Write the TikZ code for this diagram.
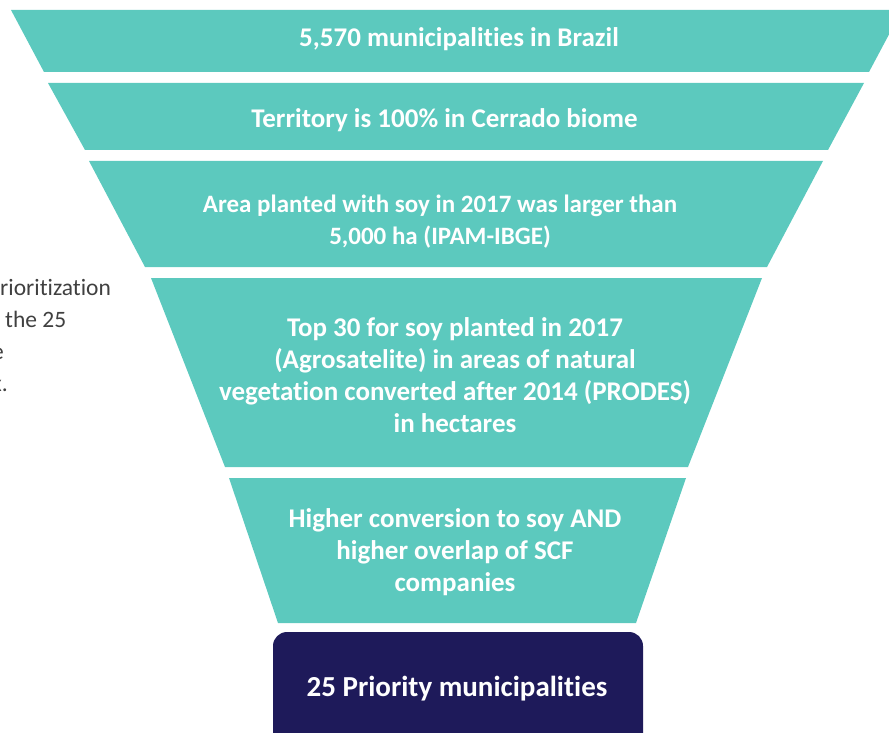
\documentclass[tikz,border=0pt]{standalone}
\usepackage{fontspec}
\setmainfont[RawFeature=-liga]{Carlito}
\definecolor{funnelteal}{HTML}{5CC9BE}
\definecolor{funnelnavy}{HTML}{1E1A5A}
\definecolor{sidegray}{HTML}{404040}
\begin{document}
\begin{tikzpicture}[x=1pt,y=-1pt,
  layer/.style={fill=funnelteal,draw=none},
  lbl/.style={text=white,font=\bfseries\fontsize{27}{32}\selectfont,align=center,inner sep=0pt,anchor=base},
  sidetxt/.style={text=sidegray,font=\fontsize{23.5}{32}\selectfont,inner sep=0pt,anchor=base west}]
\useasboundingbox (0,0) rectangle (889,733);
\begin{scope}
\clip (0,0) rectangle (889,733);
% funnel layers
\fill[layer] (11,10) -- (902,10) -- (869,72) -- (44,72) -- cycle;
\fill[layer] (48,83) -- (864,83) -- (828,150) -- (85,150) -- cycle;
\fill[layer] (89,161) -- (823,161) -- (767,267) -- (145,267) -- cycle;
\fill[layer] (151,278) -- (762,278) -- (688,467) -- (225,467) -- cycle;
\fill[layer] (229,478) -- (686,478) -- (636,623) -- (278,623) -- cycle;
\fill[funnelnavy,rounded corners=14pt] (273,632) rectangle (643,760);
% side text
\node[sidetxt] (s1) at (0,295) {rioritization};
\node[sidetxt] (s2) at (-12,327) {e the 25};
\node[sidetxt,anchor=base east] (s3) at (4,359) {e};
\node[sidetxt,anchor=base east] (s4) at (8,391) {x.};
\end{scope}
% labels (base anchor = last line's baseline)
\node[lbl] (t1) at (459,47) {5,570 municipalities in Brazil};
\node[lbl] (t2) at (444.5,128) {Territory is 100\% in Cerrado biome};
\node[lbl,font=\bfseries\fontsize{25}{32}\selectfont] (t3) at (440,244) {Area planted with soy in 2017 was larger than\\5,000 ha (IPAM-IBGE)};
\node[lbl] (t4) at (455,432) {Top 30 for soy planted in 2017\\(Agrosatelite) in areas of natural\\vegetation converted after 2014 (PRODES)\\in hectares};
\node[lbl] (t5) at (455,591) {Higher conversion to soy AND\\higher overlap of SCF\\companies};
\node[lbl,font=\bfseries\fontsize{29}{32}\selectfont] (t6) at (457,696) {25 Priority municipalities};
\end{tikzpicture}
\end{document}
